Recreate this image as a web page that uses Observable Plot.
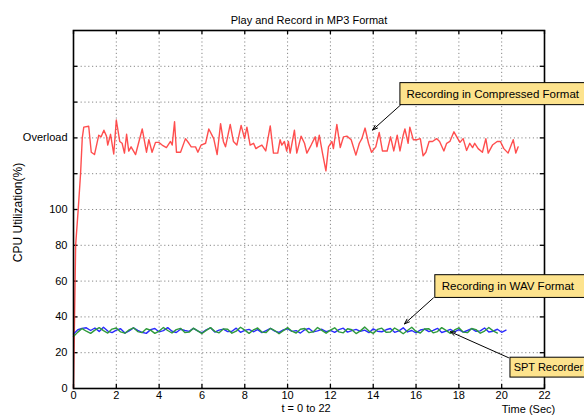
<!DOCTYPE html>
<html>
<head>
<meta charset="utf-8">
<script src="https://cdn.jsdelivr.net/npm/d3@7"></script>
<script src="https://cdn.jsdelivr.net/npm/@observablehq/plot@0.6"></script>
<style>
  html, body { margin: 0; padding: 0; background: #fff; }
</style>
</head>
<body>
<div id="chart"></div>
<script>
// ---- data ----
const titleText = "Play and Record in MP3 Format";
const xTicks = [0, 2, 4, 6, 8, 10, 12, 14, 16, 18, 20, 22];
const yGridTicks = [20, 40, 60, 80, 100, 120, 140, 160, 180];
const yLabelTicks = [0, 20, 40, 60, 80, 100, 140];
const yLabelNames = ["0", "20", "40", "60", "80", "100", "Overload"];

// Recording in Compressed Format [time (s), CPU %]
const compressed = [
  [0,0],[0.05,40],[0.1,80],[0.22,100],[0.33,120],[0.41,140],[0.48,146],[0.71,146.5],[0.83,132],[0.98,130.7],
  [1.18,141.5],[1.29,140.6],[1.42,144.3],[1.54,141],[1.6,136],[1.73,142],[1.88,131],[2.0,150],[2.16,138],[2.27,137],
  [2.38,131.5],[2.48,142],[2.58,132.6],[2.69,135],[2.9,130.7],[3.21,145],[3.41,132],[3.52,139],[3.67,132],[3.83,137.5],
  [3.98,137.5],[4.14,136],[4.34,134.6],[4.53,138],[4.61,136],[4.72,149],[4.81,132],[5.0,132],[5.23,139.6],[5.39,137],
  [5.5,135],[5.7,135],[5.81,132],[5.96,136],[6.17,137],[6.32,145],[6.55,139.6],[6.71,130.7],[6.87,148],[7.0,138],
  [7.1,135],[7.32,147.5],[7.47,138],[7.63,136],[7.83,147],[7.99,139.6],[8.1,146],[8.25,136],[8.41,137],[8.52,134],
  [8.64,135],[8.8,136],[8.98,132.7],[9.19,146.7],[9.34,131.5],[9.54,131.5],[9.65,139],[9.73,136],[9.85,138],[9.96,132.7],
  [10.04,138],[10.12,131.5],[10.32,144.3],[10.43,131.5],[10.63,141],[10.79,137],[10.9,131.5],[11.1,136],[11.29,140.6],[11.37,135],
  [11.48,141.5],[11.63,131.5],[11.79,121.6],[11.91,135],[12.07,138],[12.14,134],[12.3,147.5],[12.46,134.6],[12.61,140.6],[12.77,141],
  [12.97,139],[13.19,130.4],[13.35,137],[13.47,139.6],[13.62,145.5],[13.78,137],[13.92,132],[14.12,135],[14.28,143],[14.43,132.7],
  [14.65,132.7],[14.81,140.6],[14.96,132.7],[15.12,141.5],[15.25,132.7],[15.4,141.5],[15.48,145],[15.63,137],[15.71,146],[15.87,139],
  [16.05,139],[16.2,139.6],[16.33,130],[16.46,132],[16.61,138],[16.77,138],[16.96,139.6],[17.1,138],[17.3,132.7],[17.43,137],
  [17.58,138],[17.77,143.4],[17.93,140],[18.05,137.5],[18.2,139.6],[18.36,133],[18.51,137],[18.64,134.6],[18.74,137],[18.9,134],
  [19.1,132],[19.26,139.6],[19.37,131.5],[19.57,136],[19.79,138],[19.94,138],[20.1,134],[20.3,131.5],[20.54,139],[20.66,131.5],[20.77,135]
];

// sampling interval of the WAV / SPT traces (s)
const sampleStep = 0.2;
// Recording in WAV Format (blue)
const wavCpu = [30.5, 32.8, 33.6, 33.9, 32.4, 33.8, 31.9, 34.2, 32.1, 31.2, 32.6, 33.4, 31.0, 32.2, 33.9, 32.5, 31.4, 30.8, 32.9, 33.5,
  31.6, 32.3, 34.0, 32.0, 31.3, 33.1, 32.4, 31.9, 33.6, 32.2, 31.1, 32.8, 33.9, 31.5, 32.6, 33.2, 31.8, 32.0, 33.7, 31.4,
  32.5, 33.0, 31.7, 32.9, 31.2, 32.4, 33.6, 32.1, 31.3, 32.7, 33.4, 31.9, 32.3, 31.0, 32.8, 33.5, 31.6, 32.2, 33.1, 31.8,
  32.5, 31.4, 32.9, 33.7, 31.5, 32.3, 33.0, 31.9, 32.6, 31.2, 33.3, 32.0, 31.7, 32.8, 33.5, 31.4, 32.2, 33.9, 31.6, 32.4,
  31.1, 32.7, 33.2, 31.8, 32.5, 33.6, 31.3, 32.1, 33.0, 31.7, 32.9, 31.5, 32.4, 33.4, 31.9, 32.2, 33.8, 31.6, 32.0, 33.1, 31.4, 32.6];
// SPT Recorder (green)
const sptCpu = [29.0, 31.5, 33.5, 32.0, 30.8, 32.6, 34.0, 32.3, 31.0, 33.2, 33.8, 31.6, 30.9, 32.8, 33.9, 31.8, 31.2, 33.4, 32.6, 30.8,
  32.1, 34.1, 32.4, 31.0, 32.9, 33.6, 31.3, 31.5, 33.7, 32.2, 30.7, 32.5, 34.0, 31.9, 31.1, 33.3, 33.1, 30.9, 32.0, 34.2,
  32.6, 30.8, 32.7, 33.8, 31.5, 31.3, 33.6, 32.4, 30.6, 32.3, 34.0, 32.0, 31.0, 33.1, 33.5, 31.2, 31.7, 34.1, 32.5, 30.9,
  32.6, 33.9, 31.6, 31.1, 33.4, 32.8, 30.7, 32.2, 34.3, 32.1, 30.8, 33.0, 33.7, 31.4, 31.5, 33.8, 32.3, 30.6, 32.4, 34.2,
  31.9, 31.0, 33.2, 33.4, 31.1, 31.8, 34.0, 32.5, 30.8, 32.7, 33.9, 31.5, 31.2, 33.5, 32.9, 30.9, 32.1, 34.1, 32.2, 31.0];

const noteLabels = ["Recording in Compressed Format", "Recording in WAV Format", "SPT Recorder"];

// ---- build tables ----
const redData = compressed.map(([t, v]) => ({t, v}));
const blueData = wavCpu.map((v, i) => ({t: i * sampleStep, v}));
const greenData = sptCpu.map((v, i) => ({t: i * sampleStep, v}));

// annotation boxes in data coordinates
const boxes = [
  {x1: 15.27, x2: 24.0, y1: 158.3, y2: 170.6, tx: 15.55, ty: 164.4, label: noteLabels[0], fs: 11.5},
  {x1: 16.9, x2: 24.0, y1: 50.6, y2: 63.3, tx: 17.2, ty: 56.9, label: noteLabels[1], fs: 11.5},
  {x1: 20.41, x2: 24.5, y1: 6.1, y2: 17.2, tx: 20.56, ty: 11.6, label: noteLabels[2], fs: 11}
];
const arrows = [
  {x1: 15.27, y1: 158.3, x2: 13.97, y2: 144.4},
  {x1: 16.81, y1: 50.6, x2: 15.46, y2: 36.1},
  {x1: 20.32, y1: 17.2, x2: 17.6, y2: 31.7}
];

const font = "Liberation Sans, Arial, Helvetica, sans-serif";

const chart = Plot.plot({
  width: 584,
  height: 419,
  marginTop: 30,
  marginBottom: 31,
  marginLeft: 73,
  marginRight: 40,
  style: {fontFamily: font, fontSize: "11px", color: "black", background: "white", overflow: "visible"},
  x: {domain: [0, 22]},
  y: {domain: [0, 200]},
  marks: [
    Plot.gridX(xTicks.slice(1, -1), {stroke: "#888", strokeOpacity: 1, strokeDasharray: "1.2,2.6", strokeWidth: 1}),
    Plot.gridY(yGridTicks, {stroke: "#888", strokeOpacity: 1, strokeDasharray: "1.2,2.6", strokeWidth: 1}),
    // inward tick marks
    Plot.ruleX(xTicks, {x: d => d, y1: 0, y2: 2.3, stroke: "black", strokeWidth: 1.3}),
    Plot.ruleX(xTicks, {x: d => d, y1: 197.7, y2: 200, stroke: "black", strokeWidth: 1.3}),
    Plot.ruleY(yGridTicks, {y: d => d, x1: 0, x2: 0.2, stroke: "black", strokeWidth: 1.3}),
    Plot.ruleY(yGridTicks, {y: d => d, x1: 21.8, x2: 22, stroke: "black", strokeWidth: 1.3}),
    Plot.line(redData, {x: "t", y: "v", stroke: "#ff3b3b", strokeWidth: 1.4, strokeOpacity: 0.9}),
    Plot.line(blueData, {x: "t", y: "v", stroke: "#2a2aff", strokeWidth: 1.4}),
    Plot.line(greenData, {x: "t", y: "v", stroke: "#2f9a3a", strokeWidth: 1.4}),
    Plot.frame({stroke: "black", strokeWidth: 1.6}),
    Plot.axisX(xTicks, {tickSize: 0, tickPadding: 3, label: null, fontSize: 11}),
    Plot.axisY(yLabelTicks, {tickSize: 0, tickPadding: 6, label: null, fontSize: 11,
      tickFormat: d => yLabelNames[yLabelTicks.indexOf(d)]}),
    // titles
    Plot.text([titleText], {frameAnchor: "top", dy: -14, fontSize: 11}),
    Plot.text(["t = 0 to 22"], {frameAnchor: "bottom", dx: -3, dy: 23, fontSize: 11}),
    Plot.text(["Time (Sec)"], {frameAnchor: "bottom-right", textAnchor: "middle", dx: -16, dy: 24, fontSize: 11}),
    Plot.text(["CPU Utilization(%)"], {frameAnchor: "left", textAnchor: "middle", rotate: -90, dx: -55, dy: 3, fontSize: 12}),
    // annotations
    Plot.arrow(arrows, {x1: "x1", y1: "y1", x2: "x2", y2: "y2", stroke: "black", strokeWidth: 1, headLength: 8, headAngle: 40}),
    Plot.rect(boxes, {x1: "x1", x2: "x2", y1: "y1", y2: "y2", fill: "#fde38d", stroke: "black", strokeWidth: 1}),
    Plot.text(boxes, {x: "tx", y: "ty", text: "label", textAnchor: "start", fontSize: d => d.fs})
  ]
});

document.getElementById("chart").appendChild(chart);
</script>
</body>
</html>
